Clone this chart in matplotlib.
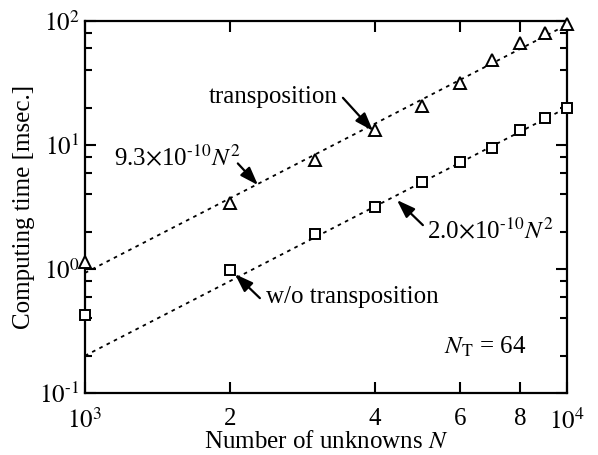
import numpy as np
import matplotlib
matplotlib.use("Agg")
import matplotlib.pyplot as plt
from matplotlib.ticker import FixedLocator, FixedFormatter, LogLocator, NullFormatter

plt.rcParams['font.family'] = 'Liberation Serif'
plt.rcParams['mathtext.fontset'] = 'stix'

# measured data [msec.]
n_unknowns = [1000, 2000, 3000, 4000, 5000, 6000, 7000, 8000, 9000, 10000]
t_trans = [1.14, 3.4, 7.6, 13.2, 20.6, 31.6, 48.5, 66.5, 80.0, 94.6]
t_notrans = [0.43, 0.98, 1.92, 3.16, 5.0, 7.3, 9.5, 13.2, 16.5, 19.9]

# fitted coefficients (seconds), shown in msec.
coef_trans = 9.3e-10
coef_notrans = 2.0e-10

xticks = [1000, 2000, 4000, 6000, 8000, 10000]
xticklabels = [r'$10^3$', '2', '4', '6', '8', r'$10^4$']
yticks = [0.1, 1, 10, 100]
yticklabels = [r'$10^{\text{-1}}$', r'$10^0$', r'$10^1$', r'$10^2$']

fig = plt.figure(figsize=(5.98, 4.55), dpi=100)
ax = fig.add_axes([0.142, 0.136, 0.806, 0.818])

N = np.array([1000, 10000])
ax.plot(N, coef_trans * N**2 * 1e3, ls=(0, (2, 2.5)), color='k', lw=1.3)
ax.plot(N, coef_notrans * N**2 * 1e3, ls=(0, (2, 2.5)), color='k', lw=1.3)
ax.plot(n_unknowns, t_trans, ls='none', marker='^', ms=8, mfc='white', mec='k', mew=1.4,
        clip_on=False, zorder=5)
ax.plot(n_unknowns, t_notrans, ls='none', marker='s', ms=6.5, mfc='white', mec='k', mew=1.4,
        clip_on=False, zorder=5)

ax.set_xscale('log')
ax.set_yscale('log')
ax.set_xlim(1000, 10000)
ax.set_ylim(0.1, 100)

ax.xaxis.set_major_locator(FixedLocator(xticks))
ax.xaxis.set_major_formatter(FixedFormatter(xticklabels))
ax.xaxis.set_minor_locator(FixedLocator([]))
ax.yaxis.set_major_locator(FixedLocator(yticks))
ax.yaxis.set_major_formatter(FixedFormatter(yticklabels))
ax.yaxis.set_minor_locator(LogLocator(base=10, subs=[2, 4, 6, 8]))
ax.yaxis.set_minor_formatter(NullFormatter())

ax.tick_params(which='both', direction='in', top=True, right=True, width=1.5, labelsize=18)
ax.tick_params(which='major', length=8)
ax.tick_params(axis='x', which='major', pad=11)
ax.tick_params(axis='y', which='major', pad=4)
ax.tick_params(which='minor', length=5)
for s in ax.spines.values():
    s.set_linewidth(1.6)

ax.set_xlabel(r'Number of unknowns $N$', fontsize=18, labelpad=-2)
ax.set_ylabel('Computing time [msec.]', fontsize=18, labelpad=3)

arrow = dict(arrowstyle='-|>,head_length=1.0,head_width=0.35', color='k', lw=1.6,
             mutation_scale=11, shrinkA=0, shrinkB=0)
# labels
ax.text(2460, 24.5, 'transposition', fontsize=18, ha='center', va='center')
ax.text(1552, 7.9, r'9.3$\times$10$^{\text{-10}}N^2$', fontsize=18, ha='center', va='center')
ax.text(6920, 2.06, r'2.0$\times$10$^{\text{-10}}N^2$', fontsize=18, ha='center', va='center')
ax.text(3580, 0.6, 'w/o transposition', fontsize=18, ha='center', va='center')
ax.text(0.83, 0.124, r'$N_\mathrm{T}$ = 64', transform=ax.transAxes, fontsize=18,
        ha='center', va='center')
# arrows
ax.annotate('', xy=(3960, 13.0), xytext=(3430, 24.0), arrowprops=arrow)
ax.annotate('', xy=(2286, 4.75), xytext=(2076, 7.1), arrowprops=arrow)
ax.annotate('', xy=(4440, 3.6), xytext=(5026, 2.26), arrowprops=arrow)
ax.annotate('', xy=(2048, 0.91), xytext=(2307, 0.583), arrowprops=arrow)

fig.savefig('out.png', dpi=100)
